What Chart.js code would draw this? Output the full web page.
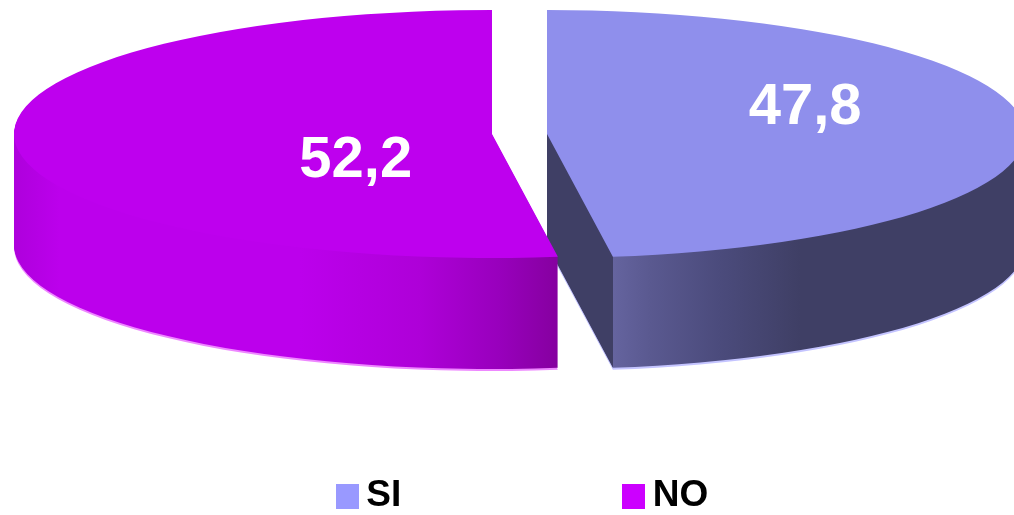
<!DOCTYPE html>
<html>
<head>
<meta charset="utf-8">
<style>html,body{margin:0;padding:0;background:#fff}canvas{display:block}</style>
<script src="https://cdn.jsdelivr.net/npm/chart.js@4/dist/chart.umd.min.js"></script>
</head>
<body>
<canvas id="c" width="1014" height="515"></canvas>
<script>
const categories = ['SI', 'NO'];
const values = [47.8, 52.2];
const topColors = ['#8F8FEC', '#BE00EE'];
const legendColors = ['#9999FF', '#CC00FF'];

// 3D view settings
const BASE_RADIUS = 98;
const VIEW = {cx: 519.5, cy: 134, rx: 478, ry: 124, depth: 111, explode: 27.5};
const sx = VIEW.rx / BASE_RADIUS, sy = VIEW.ry / BASE_RADIUS;
const wallStops = [
  [[547,'#3F3F65'],[612.5,'#3F3F65'],[612.6,'#65649F'],[650,'#5A5990'],[720,'#4B4B7C'],[800,'#3F3F65'],[1014,'#3F3F65']],
  [[14,'#AE00DC'],[60,'#BC00EC'],[300,'#BC00EC'],[420,'#AE00D8'],[500,'#9800BC'],[557,'#8600A0']]
];
const haloColors = ['#C4C4FF', '#EE88FF'];
const labelAnchors = [[0.54, -0.21], [-0.285, 0.22]];

function swatch(color) {
  const s = document.createElement('canvas');
  s.width = 23; s.height = 25;
  const g = s.getContext('2d');
  g.fillStyle = color; g.fillRect(0, 0, 23, 25);
  return s;
}

const pie3d = {
  id: 'pie3d',
  afterLayout(chart) {
    chart.legend.bottom = chart.height;
  },
  beforeDatasetsDraw(chart) {
    const ctx = chart.ctx;
    const arcs = chart.getDatasetMeta(0).data;
    const centerX = arc => Math.round(VIEW.cx + Math.sign(Math.cos((arc.startAngle + arc.endAngle) / 2)) * VIEW.explode);
    const drawLayer = (arc, fill, dy) => {
      const o = arc.options;
      ctx.save();
      ctx.translate(centerX(arc), VIEW.cy + dy);
      ctx.scale(sx, sy);
      ctx.translate(-arc.x, -arc.y);
      arc.options = Object.assign({}, o, {backgroundColor: fill, borderWidth: 0});
      arc.draw(ctx);
      arc.options = o;
      ctx.restore();
    };
    const wallFill = (arc, i) => {
      const u = px => arc.x + (px - centerX(arc)) / sx;
      const st = wallStops[i];
      const a = st[0][0], b = st[st.length - 1][0];
      const g = ctx.createLinearGradient(u(a), 0, u(b), 0);
      st.forEach(s => g.addColorStop((s[0] - a) / (b - a), s[1]));
      return g;
    };
    arcs.forEach((arc, i) => {
      drawLayer(arc, haloColors[i], VIEW.depth + 2);
      const g = wallFill(arc, i);
      for (let d = VIEW.depth; d > 0; d--) drawLayer(arc, g, d);
    });
    arcs.forEach((arc, i) => drawLayer(arc, topColors[i], 0));
    ctx.save();
    ctx.fillStyle = '#fff';
    ctx.font = 'bold 58px "Liberation Sans"';
    ctx.textAlign = 'center';
    ctx.textBaseline = 'middle';
    arcs.forEach((arc, i) => {
      const x = centerX(arc) + labelAnchors[i][0] * VIEW.rx;
      const y = VIEW.cy + labelAnchors[i][1] * VIEW.ry;
      ctx.fillText(String(values[i]).replace('.', ','), x, y);
    });
    ctx.restore();
    return false;
  }
};

new Chart(document.getElementById('c'), {
  type: 'pie',
  data: {
    labels: categories,
    datasets: [{data: values, backgroundColor: topColors, borderWidth: 0, radius: BASE_RADIUS}]
  },
  options: {
    responsive: false,
    animation: false,
    layout: {padding: {left: 41, bottom: 24}},
    plugins: {
      tooltip: {enabled: false},
      legend: {
        position: 'bottom',
        labels: {
          usePointStyle: true,
          pointStyleWidth: 1,
          color: '#000',
          padding: 232,
          font: {family: '"Liberation Sans"', size: 37, weight: 'bold'},
          generateLabels: () => categories.map((t, i) => ({
            text: t, pointStyle: swatch(legendColors[i]), fontColor: '#000', datasetIndex: 0, index: i, hidden: false
          }))
        }
      }
    }
  },
  plugins: [pie3d]
});
</script>
</body>
</html>
